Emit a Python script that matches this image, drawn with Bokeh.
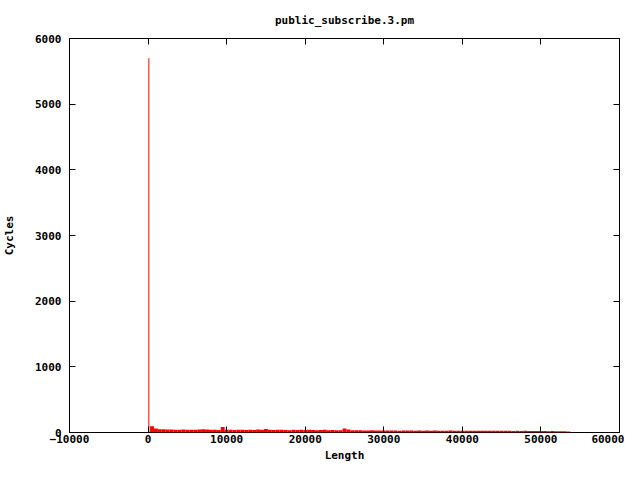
from bokeh.plotting import figure
from bokeh.models import Range1d, LinearAxis, FixedTicker, CustomLabelingPolicy
from bokeh.embed import file_html
from bokeh.resources import INLINE

# Data
spike_length = [100]
spike_cycles = [5700]

lengths = list(range(500, 54000, 500))
cycles = [
    95, 60, 50, 48, 45, 45, 42, 40, 45, 40,
    42, 40, 45, 50, 45, 40, 42, 38, 85, 40,
    40, 38, 40, 42, 38, 40, 38, 45, 40, 55,
    40, 38, 42, 40, 38, 36, 40, 38, 40, 38,
    40, 38, 36, 38, 40, 35, 38, 36, 35, 60,
    45, 35, 33, 35, 30, 32, 35, 30, 32, 30,
    30, 32, 30, 28, 30, 32, 30, 28, 30, 28,
    30, 28, 30, 28, 27, 28, 30, 27, 28, 26,
    28, 26, 27, 28, 25, 26, 27, 25, 26, 25,
    25, 26, 24, 25, 24, 25, 23, 24, 22, 24,
    22, 20, 22, 18, 20, 18, 15,
]

x_ticks = [-10000, 0, 10000, 20000, 30000, 40000, 50000, 60000]
y_ticks = [0, 1000, 2000, 3000, 4000, 5000, 6000]

FONT = "DejaVu Sans Mono"
FS = "11px"

p = figure(width=624, height=464, output_backend="svg", toolbar_location=None,
           x_range=Range1d(-10000, 60000), y_range=Range1d(0, 6000),
           title="public_subscribe.3.pm",
           x_axis_type=None, y_axis_type=None,
           min_border_left=60, min_border_right=5, min_border_top=31, min_border_bottom=0)

p.title.align = "center"
p.title.text_font = FONT
p.title.text_font_size = FS
p.title.text_font_style = "bold"
p.title.text_color = "black"
p.title.offset = 0
p.title.standoff = 23

p.xgrid.visible = False
p.ygrid.visible = False
p.outline_line_color = "black"
p.outline_line_width = 1
p.background_fill_color = "white"
p.border_fill_color = "white"

p.vbar(x=lengths, top=cycles, width=500, fill_color="#ff0000", line_color=None)
p.segment(x0=spike_length, y0=[0], x1=spike_length, y1=spike_cycles,
          line_color="#ff0000", line_width=1)

no_labels = CustomLabelingPolicy(code="""
    const all = Array.from(indices)
    for (const i of all) { indices.unset(i) }
    return indices
""")

bottom = LinearAxis(ticker=FixedTicker(ticks=x_ticks), axis_label="Length")
left = LinearAxis(ticker=FixedTicker(ticks=y_ticks), axis_label="Cycles")
top = LinearAxis(ticker=FixedTicker(ticks=x_ticks), major_label_policy=no_labels,
                 major_label_overrides={t: "" for t in x_ticks})
right = LinearAxis(ticker=FixedTicker(ticks=y_ticks), major_label_policy=no_labels,
                   major_label_overrides={t: "" for t in y_ticks})
p.add_layout(bottom, "below")
p.add_layout(left, "left")
p.add_layout(top, "above")
p.add_layout(right, "right")

for ax in [bottom, left, top, right]:
    ax.axis_line_color = None
    ax.major_tick_in = 6
    ax.major_tick_out = 0
    ax.major_tick_line_color = "black"
    ax.minor_tick_line_color = None
    ax.major_label_text_font = FONT
    ax.major_label_text_font_size = FS
    ax.major_label_text_font_style = "bold"
    ax.major_label_text_color = "black"
    ax.axis_label_text_font = FONT
    ax.axis_label_text_font_size = FS
    ax.axis_label_text_font_style = "bold"
    ax.axis_label_text_color = "black"

for ax in [top, right]:
    ax.major_label_standoff = 0

bottom.major_label_standoff = 2
bottom.axis_label_standoff = 3
left.major_label_standoff = 8
left.axis_label_standoff = 16

open("out.html", "w").write(file_html(p, INLINE))
